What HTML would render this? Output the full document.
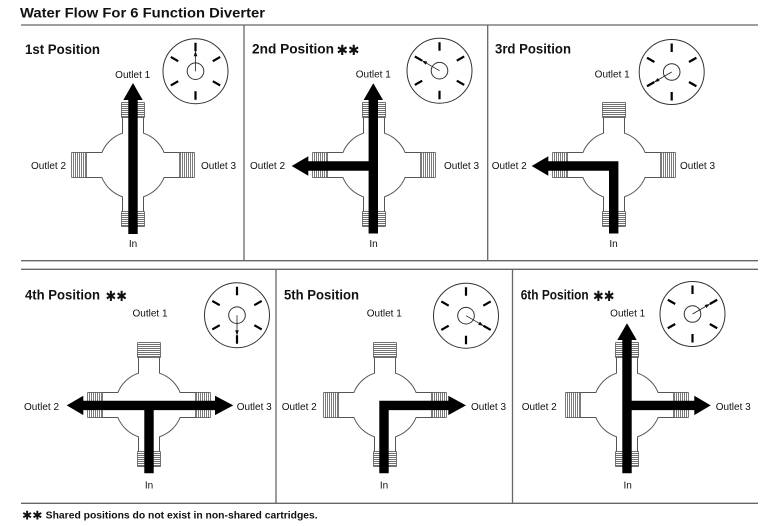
<!DOCTYPE html>
<html><head><meta charset="utf-8"><style>
html,body{margin:0;padding:0;background:#fff;}
svg{display:block;}
text{font-family:"Liberation Sans",Arial,sans-serif;fill:#111;}
.t{font-weight:bold;font-size:13.5px;}
.l{font-size:10px;}
.st{font-family:"DejaVu Sans",sans-serif;font-size:14px;fill:#111;font-weight:bold;}
</style></head><body>
<svg width="780" height="526" viewBox="0 0 780 526" xmlns="http://www.w3.org/2000/svg">
<defs>
<g id="cross">
  <path d="M-10.5,-47.5 L-10.5,-31.8 A33.5,33.5 0 0 0 -31.1,-12.5 L-46.5,-12.5 M-46.5,12.5 L-31.1,12.5 A33.5,33.5 0 0 0 -10.5,31.8 L-10.5,46.5 M10.5,46.5 L10.5,31.8 A33.5,33.5 0 0 0 31.1,12.5 L46.5,12.5 M46.5,-12.5 L31.1,-12.5 A33.5,33.5 0 0 0 10.5,-31.8 L10.5,-47.5" fill="none" stroke="#555" stroke-width="1"/>
  <g fill="none" stroke="#444" stroke-width="0.7">
    <path d="M-11.5,-62.5V-47.5M11.5,-62.5V-47.5M-11.5,-62.5H11.5M-11.5,-60.5H11.5M-11.5,-58.5H11.5M-11.5,-56.5H11.5M-11.5,-54.5H11.5M-11.5,-52.5H11.5M-11.5,-50.5H11.5M-11.5,-48.5H11.5M-11.5,-47.5H11.5"/>
    <path d="M-11.5,46.5V61.5M11.5,46.5V61.5M-11.5,46.5H11.5M-11.5,48.5H11.5M-11.5,50.5H11.5M-11.5,52.5H11.5M-11.5,54.5H11.5M-11.5,56.5H11.5M-11.5,58.5H11.5M-11.5,60.5H11.5M-11.5,61.5H11.5"/>
    <path d="M-61.5,-12.5H-46.5M-61.5,12.5H-46.5M-61.5,-12.5V12.5M-59.5,-12.5V12.5M-57.5,-12.5V12.5M-55.5,-12.5V12.5M-53.5,-12.5V12.5M-51.5,-12.5V12.5M-49.5,-12.5V12.5M-47.5,-12.5V12.5M-46.5,-12.5V12.5"/>
    <path d="M46.5,-12.5H61.5M46.5,12.5H61.5M46.5,-12.5V12.5M47.5,-12.5V12.5M49.5,-12.5V12.5M51.5,-12.5V12.5M53.5,-12.5V12.5M55.5,-12.5V12.5M57.5,-12.5V12.5M59.5,-12.5V12.5M61.5,-12.5V12.5"/>
  </g>
</g>
<g id="dial">
  <circle cx="0" cy="0" r="32.5" fill="#fff" stroke="#333" stroke-width="1"/>
  <circle cx="0" cy="0" r="8.3" fill="none" stroke="#333" stroke-width="1"/>
  <path d="M0,-20V-28.5M17.3,-10L24.7,-14.25M17.3,10L24.7,14.25M0,20V28.5M-17.3,10L-24.7,14.25M-17.3,-10L-24.7,-14.25" stroke="#000" stroke-width="2.2" fill="none"/>
</g>
<g id="ptr">
  <line x1="0" y1="0" x2="0" y2="-16" stroke="#222" stroke-width="0.8"/>
  <polygon points="0,-20.5 -1.8,-15 1.8,-15" fill="#111"/>
</g>
</defs>

<!-- Title -->
<text x="20" y="17.5" style="font-weight:bold;font-size:14px" textLength="245" lengthAdjust="spacingAndGlyphs">Water Flow For 6 Function Diverter</text>

<!-- Grid lines -->
<g stroke="#666" stroke-width="1.3" fill="none">
  <line x1="21" y1="25" x2="758" y2="25"/>
  <line x1="21" y1="260.7" x2="758" y2="260.7"/>
  <line x1="21" y1="269.3" x2="758" y2="269.3"/>
  <line x1="21" y1="503.3" x2="758" y2="503.3"/>
  <line x1="244" y1="25" x2="244" y2="260.7"/>
  <line x1="487.7" y1="25" x2="487.7" y2="260.7"/>
  <line x1="276" y1="269.3" x2="276" y2="503.3"/>
  <line x1="512.5" y1="269.3" x2="512.5" y2="503.3"/>
</g>

<!-- Panel 1 -->
<text class="t" x="25" y="54" textLength="75" lengthAdjust="spacingAndGlyphs">1st Position</text>
<use href="#dial" transform="translate(195.5,71.2)"/>
<use href="#ptr" transform="translate(195.5,71.2) rotate(0)"/>
<use href="#cross" transform="translate(133,165)"/>
<polygon points="128.3,234 128.3,100 123.3,100 133,83 142.7,100 137.7,100 137.7,234" fill="#000"/>
<text class="l" x="132.7" y="78" text-anchor="middle">Outlet 1</text>
<text class="l" x="31" y="169">Outlet 2</text>
<text class="l" x="201" y="169">Outlet 3</text>
<text class="l" x="133" y="247" text-anchor="middle">In</text>

<!-- Panel 2 -->
<text class="t" x="252" y="53.5" textLength="82" lengthAdjust="spacingAndGlyphs">2nd Position</text>
<text class="st" x="336.5" y="55" textLength="23" lengthAdjust="spacingAndGlyphs">✱✱</text>
<use href="#dial" transform="translate(439.5,70.7)"/>
<use href="#ptr" transform="translate(439.5,70.7) rotate(-60)"/>
<use href="#cross" transform="translate(374,165)"/>
<polygon points="368.6,233.5 368.6,170.7 308.3,170.7 308.3,175.7 291.7,166 308.3,156.3 308.3,161.3 368.6,161.3 368.6,100 363.6,100 373.3,83.3 383,100 378,100 378,233.5" fill="#000"/>
<text class="l" x="373.3" y="77.5" text-anchor="middle">Outlet 1</text>
<text class="l" x="250" y="169">Outlet 2</text>
<text class="l" x="444" y="169">Outlet 3</text>
<text class="l" x="373.5" y="247" text-anchor="middle">In</text>

<!-- Panel 3 -->
<text class="t" x="495" y="53.5" textLength="76" lengthAdjust="spacingAndGlyphs">3rd Position</text>
<use href="#dial" transform="translate(671.7,72)"/>
<use href="#ptr" transform="translate(671.7,72) rotate(-120)"/>
<use href="#cross" transform="translate(614,165)"/>
<polygon points="609,233.5 609,170.7 548.3,170.7 548.3,175.7 531.7,166 548.3,156.3 548.3,161.3 618.4,161.3 618.4,233.5" fill="#000"/>
<text class="l" x="612.2" y="77.5" text-anchor="middle">Outlet 1</text>
<text class="l" x="491.7" y="169">Outlet 2</text>
<text class="l" x="680" y="169">Outlet 3</text>
<text class="l" x="613.5" y="247" text-anchor="middle">In</text>

<!-- Panel 4 -->
<text class="t" x="25" y="299.5" textLength="75" lengthAdjust="spacingAndGlyphs">4th Position</text>
<text class="st" x="105.5" y="301" textLength="21.5" lengthAdjust="spacingAndGlyphs">✱✱</text>
<use href="#dial" transform="translate(237,315.2)"/>
<use href="#ptr" transform="translate(237,315.2) rotate(180)"/>
<use href="#cross" transform="translate(149,405)"/>
<polygon points="144.3,473.3 144.3,410.1 83.3,410.1 83.3,415.1 66.7,405.4 83.3,395.7 83.3,400.7 215,400.7 215,395.7 233.3,405.4 215,415.1 215,410.1 153.7,410.1 153.7,473.3" fill="#000"/>
<text class="l" x="150" y="316.5" text-anchor="middle">Outlet 1</text>
<text class="l" x="24" y="410">Outlet 2</text>
<text class="l" x="236.7" y="410">Outlet 3</text>
<text class="l" x="149" y="488.5" text-anchor="middle">In</text>

<!-- Panel 5 -->
<text class="t" x="284" y="299.5" textLength="75" lengthAdjust="spacingAndGlyphs">5th Position</text>
<use href="#dial" transform="translate(466,315.7)"/>
<use href="#ptr" transform="translate(466,315.7) rotate(120)"/>
<use href="#cross" transform="translate(385,405)"/>
<polygon points="379.3,473.3 379.3,400.7 448.3,400.7 448.3,395.7 466,405.4 448.3,415.1 448.3,410.1 388.7,410.1 388.7,473.3" fill="#000"/>
<text class="l" x="384.3" y="316.5" text-anchor="middle">Outlet 1</text>
<text class="l" x="281.7" y="410">Outlet 2</text>
<text class="l" x="471" y="410">Outlet 3</text>
<text class="l" x="384" y="488.5" text-anchor="middle">In</text>

<!-- Panel 6 -->
<text class="t" x="520.7" y="299.5" textLength="68" lengthAdjust="spacingAndGlyphs">6th Position</text>
<text class="st" x="593" y="301" textLength="21.5" lengthAdjust="spacingAndGlyphs">✱✱</text>
<use href="#dial" transform="translate(692.5,314)"/>
<use href="#ptr" transform="translate(692.5,314) rotate(60)"/>
<use href="#cross" transform="translate(627,405)"/>
<polygon points="622.3,473.3 622.3,340 617.3,340 627,323.3 636.7,340 631.7,340 631.7,400.7 694.3,400.7 694.3,395.7 710.7,405.4 694.3,415.1 694.3,410.1 631.7,410.1 631.7,473.3" fill="#000"/>
<text class="l" x="627.7" y="316.5" text-anchor="middle">Outlet 1</text>
<text class="l" x="521.7" y="410">Outlet 2</text>
<text class="l" x="715.7" y="410">Outlet 3</text>
<text class="l" x="627.7" y="488.5" text-anchor="middle">In</text>

<!-- Footer -->
<text class="st" x="22" y="519.5" style="font-size:12px" textLength="20.5" lengthAdjust="spacingAndGlyphs">✱✱</text>
<text x="45.7" y="518.5" style="font-weight:bold;font-size:10px" textLength="272" lengthAdjust="spacingAndGlyphs">Shared positions do not exist in non-shared cartridges.</text>
</svg>
</body></html>
